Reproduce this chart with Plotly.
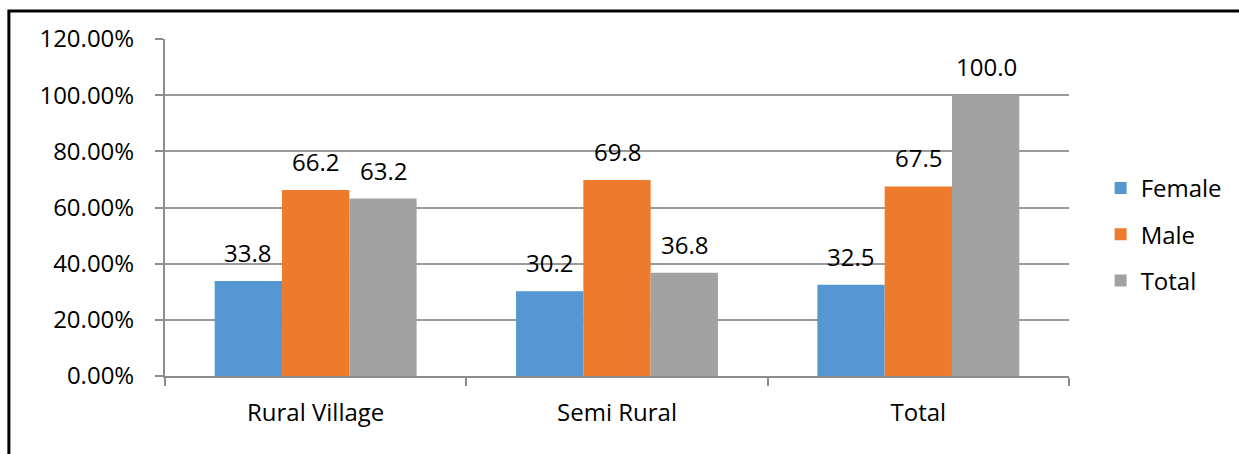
import plotly.graph_objects as go

# Share of respondents by area, in percent
categories = ["Rural Village", "Semi Rural", "Total"]
female = [33.8, 30.2, 32.5]
male = [66.2, 69.8, 67.5]
total = [63.2, 36.8, 100.0]

series = [
    ("Female", female, "#5597D3"),
    ("Male", male, "#EE7A2C"),
    ("Total", total, "#A2A2A2"),
]

FONT = "Open Sans"
FS = 24

# plot-area geometry used to place value labels over each bar in a group
L, R, T, B = 165, 165, 39, 78
W, H = 1239, 454
BARGAP = 0.33
cat_px = (W - L - R) / len(categories)
bar_px = cat_px * (1 - BARGAP) / len(series)

fig = go.Figure()
annotations = []
for i, (name, vals, color) in enumerate(series):
    fig.add_trace(go.Bar(
        name=name,
        legendgroup=name,
        x=categories,
        y=[v / 100 for v in vals],
        marker=dict(color=color, line=dict(width=0)),
    ))
    for cat, v in zip(categories, vals):
        annotations.append(dict(
            x=cat, y=v / 100, xref="x", yref="y",
            text=f"{v:.1f}", showarrow=False,
            xanchor="center", yanchor="bottom",
            xshift=(i - (len(series) - 1) / 2) * bar_px,
            yshift=10,
            font=dict(family=FONT, size=FS, color="#000000"),
        ))

fig.update_layout(
    width=W,
    height=H,
    margin=dict(l=L, r=R, t=T, b=B),
    paper_bgcolor="white",
    plot_bgcolor="white",
    barmode="group",
    bargap=BARGAP,
    bargroupgap=0,
    font=dict(family=FONT, size=FS, color="#000000"),
    showlegend=True,
    legend=dict(
        x=1.035, y=0.42, xanchor="left", yanchor="middle",
        font=dict(family=FONT, size=FS),
        itemwidth=30,
        tracegroupgap=12,
        bgcolor="rgba(0,0,0,0)",
    ),
    annotations=annotations,
    shapes=[
        # outer frame (open toward the lower right edge)
        dict(type="path", xref="paper", yref="paper",
             path="M -0.1727,-0.5 L -0.1727,1.083 L 1.4,1.083",
             line=dict(color="#000000", width=3)),
    ],
)

fig.update_xaxes(
    showline=True, linecolor="#8C8C8C", linewidth=2,
    ticks="outside", ticklen=8, tickcolor="#8C8C8C", tickwidth=1.5,
    tickson="boundaries",
    showgrid=False,
    tickfont=dict(family=FONT, size=FS),
    ticklabelstandoff=14,
)

fig.update_yaxes(
    range=[0, 1.2],
    dtick=0.2,
    tickformat=".2%",
    showline=True, linecolor="#8C8C8C", linewidth=2,
    ticks="outside", ticklen=8, tickcolor="#8C8C8C", tickwidth=1.5,
    showgrid=True, gridcolor="#9A9A9A", gridwidth=1.5,
    zeroline=False,
    tickfont=dict(family=FONT, size=FS),
    ticklabelstandoff=16,
)

fig.write_html("out.html")
